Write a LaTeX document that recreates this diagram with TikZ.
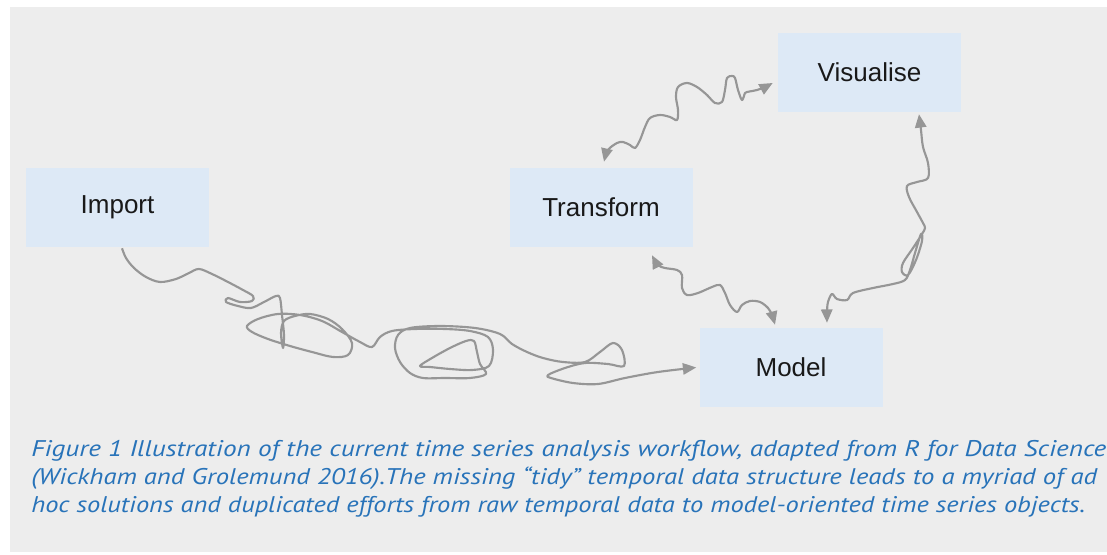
\documentclass[tikz,border=0pt]{standalone}
\usepackage{graphicx}
\usepackage{fontspec}
\setmainfont{Liberation Sans}
\newfontfamily\capfont{PT Sans}
\usetikzlibrary{arrows.meta}

\definecolor{panel}{RGB}{237,237,237}
\definecolor{boxfill}{RGB}{221,233,246}
\definecolor{wirecol}{RGB}{150,150,150}
\definecolor{captionblue}{RGB}{40,115,185}
\definecolor{labelink}{RGB}{25,25,25}

\begin{document}
\begin{tikzpicture}[x=0.75pt,y=-0.75pt,
  stage/.style={fill=boxfill, minimum width=137.25pt, minimum height=59.25pt,
    inner sep=0pt, text=labelink, font=\fontsize{19.5pt}{23pt}\selectfont},
  wire/.style={draw=wirecol, line width=1.6pt, line join=round,
    >={Triangle[length=10pt,width=8.5pt]}},
  capline/.style={anchor=base west, inner sep=0pt, text=captionblue,
    font=\capfont\itshape\fontsize{17pt}{20pt}\selectfont}]

% canvas and grey panel
\useasboundingbox (0,0) rectangle (1107,555);
\fill[panel] (10,7) rectangle (1107,552);

% workflow stages
\node[stage] (import)    at (117.5,207.5) {Import};
\node[stage] (transform) at (601,207.5)   {Transform};
\node[stage] (visualise) at (869.5,72.5)  {Visualise};
\node[stage] (model)     at (791,367.5)   {Model};

% loose ends of the wiggly connectors
\coordinate (im1) at ([shift={(4.5,1)}]import.south);
\coordinate (im2) at ([shift={(-3,0)}]model.west);
\coordinate (tv1) at ([shift={(3,-6)}]transform.north);
\coordinate (tv2) at ([shift={(-5,10.5)}]visualise.west);
\coordinate (tm1) at ([shift={(51,8)}]transform.south);
\coordinate (tm2) at ([shift={(-16,-3)}]model.north);
\coordinate (vm1) at ([shift={(49.5,2)}]visualise.south);
\coordinate (vm2) at ([shift={(36,-5)}]model.north);

% import -> model: the tangled route
\draw[wire,->] plot[smooth, tension=0.55] coordinates {
  (im1) (126,258) (134,268) (146,277) (160,282) (176,279) (189,273)
  (199,269) (212,274) (228,282) (243,290) (253,296) (252,301) (240,302)
  (228,298) (226,302) (238,306) (251,308) (264,302) (276,296) (280,298)
  (282,315) (284,335) (283,348) (281,333) (284,321) (295,316) (310,314)
  (328,319) (342,329) (352,343) (348,355) (333,357) (312,352) (290,346)
  (268,339) (252,332) (247,326) (258,319) (278,314) (300,315) (322,321)
  (342,332) (360,342) (372,347) (380,337) (392,331) (415,329) (445,329)
  (470,331) (488,337) (493,350) (489,366) (472,370) (450,369) (430,367)
  (420,366) (432,358) (450,348) (466,341) (474,341) (477,352) (480,364)
  (486,374) (470,378) (445,378) (423,378) (410,373) (400,362) (395,348)
  (398,335) (410,328) (440,326) (475,328) (500,334) (512,344) (527,352)
  (543,358) (563,362) (585,362) (600,352) (613,343) (622,350) (624,366)
  (608,364) (585,363) (565,368) (548,375) (551,378) (573,383) (598,384)
  (625,378) (658,372) (im2)};

% transform <-> visualise
\draw[wire,<->] plot[smooth, tension=0.55] coordinates {
  (tv1) (608,150) (617,143) (623,142) (630,145) (635,148) (640,140)
  (645,127) (650,118) (660,115) (670,117) (677,120) (678,110) (676,97)
  (678,87) (687,83) (697,87) (707,95) (715,103) (722,102) (725,90)
  (727,78) (732,76) (735,78) (738,90) (742,100) (745,93) (747,92)
  (757,90) (765,87) (tv2)};

% transform <-> model
\draw[wire,<->] plot[smooth, tension=0.55] coordinates {
  (tm1) (658,265) (665,268) (677,270) (682,275) (682,288) (687,295)
  (698,293) (712,287) (720,285) (725,293) (730,305) (737,312) (742,305)
  (750,301) (760,302) (768,308) (772,315) (tm2)};

% visualise <-> model
\draw[wire,<->] plot[smooth, tension=0.55] coordinates {
  (vm1) (921,130) (923,147) (928,163) (928,178) (917,182) (907,186)
  (909,197) (917,212) (923,223) (925,228) (922,234) (913,248) (903,263)
  (902,272) (908,275) (916,260) (922,241) (921,234) (915,253) (910,270)
  (905,280) (893,284) (873,288) (853,293) (847,300) (837,299) (832,294)
  (828,302) (827,312) (vm2)};

% caption
\node[capline] (cap1) at (31,457) {\resizebox{806.25pt}{\height}{Figure 1 Illustration of the current time series analysis workflow, adapted from R for Data Science}};
\node[capline] (cap2) at (31,485) {\resizebox{799.5pt}{\height}{(Wickham and Grolemund 2016).The missing “tidy” temporal data structure leads to a myriad of ad}};
\node[capline] (cap3) at (31,513) {\resizebox{790.5pt}{\height}{hoc solutions and duplicated efforts from raw temporal data to model-oriented time series objects.}};
\end{tikzpicture}
\end{document}
